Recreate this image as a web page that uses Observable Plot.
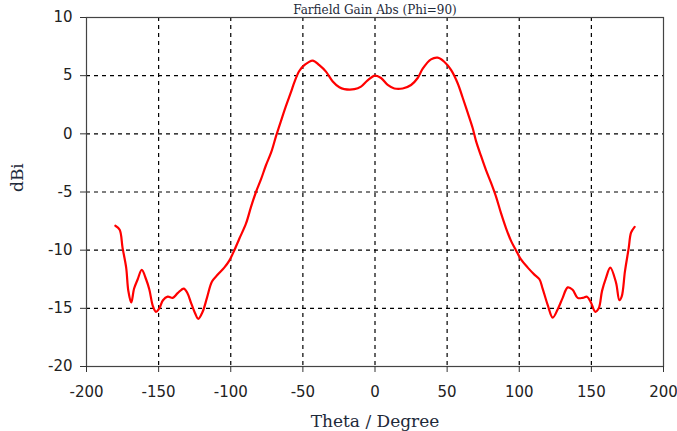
<!DOCTYPE html>
<html>
<head>
<meta charset="utf-8">
<script src="https://cdn.jsdelivr.net/npm/d3@7"></script>
<script src="https://cdn.jsdelivr.net/npm/@observablehq/plot@0.6"></script>
<style>
  html, body { margin: 0; padding: 0; background: #fff; }
</style>
</head>
<body>
<div id="chart"></div>
<script>
const title = "Farfield Gain Abs (Phi=90)";
const xLabel = "Theta / Degree";
const yLabel = "dBi";
const xTicks = [-200, -150, -100, -50, 0, 50, 100, 150, 200];
const yTicks = [-20, -15, -10, -5, 0, 5, 10];

const theta = [-180, -177, -175, -172.5, -171, -169, -167, -164.5, -161.7, -158.7, -156.4, -154, -151.8, -149.5, -147, -143.7, -140.2, -136.8, -132.6, -130, -127.6, -124.8, -122.5, -119.5, -116.5, -113, -109, -104.5, -101, -97.5, -94, -89.4, -86, -82.5, -79, -75.6, -72, -68.6, -65.2, -61.7, -58.2, -56, -52.5, -49, -43.2, -38.6, -34, -29.3, -24.7, -21.3, -14.3, -9.7, -5.1, 0, 4.2, 8.8, 13.4, 19.2, 25, 29.6, 33.1, 38.8, 43.4, 48, 52.7, 57.3, 60.8, 64.3, 67.7, 70, 73.5, 76.9, 80.4, 83.9, 87.3, 90.8, 94.3, 97.7, 101.2, 105.9, 110.5, 114, 116.2, 119.7, 123.2, 126.6, 130.1, 133.6, 137, 140.5, 144, 147, 149.7, 152.7, 155.1, 157.4, 160.1, 163.1, 167.1, 169.4, 171, 173.3, 175.9, 177.5, 180];
const gain = [-7.9, -8.25, -9.8, -11.5, -13.5, -14.5, -13.3, -12.5, -11.7, -12.5, -13.4, -14.8, -15.3, -15.0, -14.3, -14.0, -14.1, -13.7, -13.3, -13.7, -14.5, -15.4, -15.9, -15.3, -14.1, -12.7, -12.1, -11.5, -10.9, -10.0, -9.0, -7.7, -6.3, -5.0, -3.9, -2.7, -1.6, -0.2, 1.1, 2.4, 3.6, 4.4, 5.4, 5.9, 6.3, 5.9, 5.35, 4.5, 4.0, 3.85, 3.84, 4.06, 4.6, 5.0, 4.8, 4.2, 3.9, 3.9, 4.2, 4.8, 5.6, 6.4, 6.55, 6.2, 5.5, 4.35, 3.1, 1.8, 0.5, -0.6, -1.9, -3.1, -4.2, -5.4, -6.8, -8.1, -9.2, -10.0, -10.8, -11.5, -12.1, -12.5, -13.3, -14.7, -15.8, -15.1, -14.1, -13.2, -13.4, -14.1, -14.1, -14.0, -14.5, -15.3, -15.0, -13.5, -12.4, -11.5, -12.8, -14.3, -14.0, -11.8, -9.8, -8.5, -8.0];

const data = theta.map((t, i) => ({theta: t, gain: gain[i]}));
const innerX = xTicks.slice(1, -1);
const innerY = yTicks.slice(1, -1);
const serif = "'DejaVu Serif', serif";
const sans = "'DejaVu Sans', sans-serif";

const chart = Plot.plot({
  width: 677,
  height: 431,
  marginLeft: 86,
  marginRight: 14,
  marginTop: 17,
  marginBottom: 65,
  style: {background: "#fff", color: "#222", fontFamily: sans, fontSize: "15px", overflow: "visible"},
  x: {domain: [-200, 200]},
  y: {domain: [-20, 10]},
  marks: [
    Plot.gridX(innerX, {stroke: "#000", strokeOpacity: 1, strokeDasharray: "4,4", strokeWidth: 1.2}),
    Plot.gridY(innerY, {stroke: "#000", strokeOpacity: 1, strokeDasharray: "4,4", strokeWidth: 1.2}),
    Plot.frame({stroke: "#444", strokeWidth: 1.2}),
    Plot.axisX(xTicks, {tickSize: 6, tickPadding: 14, tickFormat: d => String(d), label: null, fontSize: 15, fill: "#222", stroke: "#333"}),
    Plot.axisY(yTicks, {tickSize: 6, tickPadding: 8, tickFormat: d => String(d), label: null, fontSize: 15, fill: "#222", stroke: "#333"}),
    Plot.line(data, {x: "theta", y: "gain", stroke: "#ff0000", strokeWidth: 2.2, curve: "catmull-rom"}),
    Plot.text([xLabel], {text: d => d, frameAnchor: "bottom", dy: 55, lineAnchor: "middle", fontFamily: serif, fontSize: 17, fill: "#1e2a3a"}),
    Plot.text([yLabel], {text: d => d, frameAnchor: "left", dx: -69, rotate: -90, lineAnchor: "middle", fontFamily: serif, fontSize: 17, fill: "#1e2a3a"}),
    Plot.text([title], {text: d => d, frameAnchor: "top", dy: -4, lineAnchor: "bottom", fontFamily: serif, fontSize: 12, fill: "#1e2a3a"})
  ]
});
document.getElementById("chart").appendChild(chart);
</script>
</body>
</html>
